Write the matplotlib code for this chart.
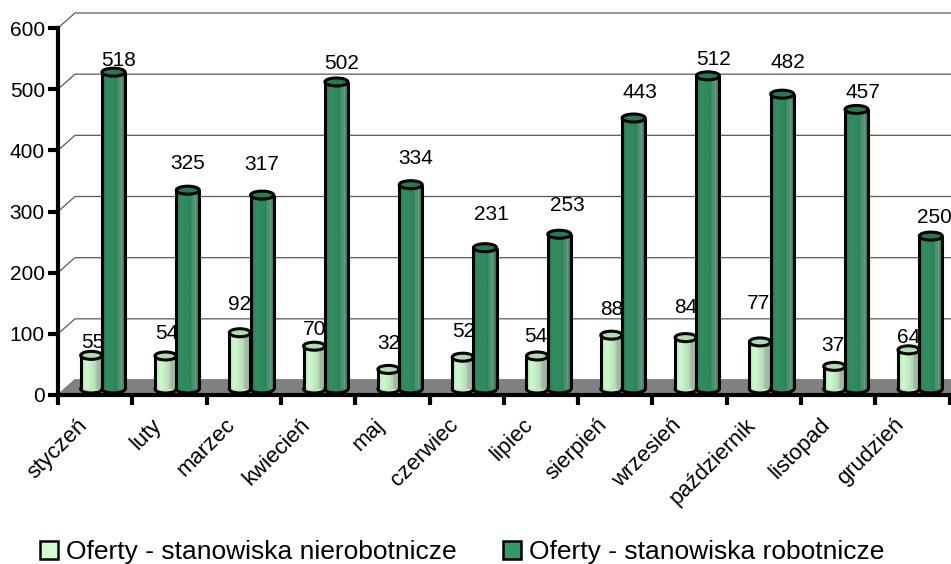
#!/usr/bin/env python3

import numpy as np
from matplotlib import pyplot as plt
from matplotlib.colors import LinearSegmentedColormap
from matplotlib.patches import Ellipse, Patch

plt.rcParams['font.family'] = ['Liberation Sans', 'DejaVu Sans']

months = ['styczeń', 'luty', 'marzec', 'kwiecień', 'maj', 'czerwiec', 'lipiec',
          'sierpień', 'wrzesień', 'październik', 'listopad', 'grudzień']
nierobotnicze = [55, 54, 92, 70, 32, 52, 54, 88, 84, 77, 37, 64]
robotnicze = [518, 325, 317, 502, 334, 231, 253, 443, 512, 482, 457, 250]
yticks = [0, 100, 200, 300, 400, 500, 600]
series_names = ['Oferty - stanowiska nierobotnicze', 'Oferty - stanowiska robotnicze']

# label offsets from the bar top, pixels (the original has them placed by hand)
light_dx = [1, 1, 0, 0, 0, 1, -1, 0, 0, -1, -1, 0]
light_dy = [13, 22, 28, 17, 26, 26, 19, 26, 30, 38, 21, 12]
dark_dx = [5, 0, 0, 5, 5, 6, 8, 6, 6, 6, 6, 4]
dark_dy = [12, 27, 31, 18, 26, 33, 29, 26, 16, 32, 17, 19]

W, H = 951, 564
x0, y0, y600 = 58, 395, 28
step = 74.3
sx = 1/step
sy = 600/(y0-y600)
depth_x, depth_y = 17*sx, 15*sy
base = 6*sy
ell_h = 8*sy
light_c, dark_c = 0.448, 0.747
light_w, dark_w = 0.285, 0.31

light_cmap = LinearSegmentedColormap.from_list('l', [(0, '#b8e6b8'), (0.25, '#ccfacc'), (0.55, '#bfe6bf'),
                                                     (0.7, '#b4d0b4'), (0.72, '#a4bca4'), (1, '#a0b4a0')])
dark_cmap = LinearSegmentedColormap.from_list('d', [(0, '#287a52'), (0.2, '#2f8d5f'), (0.55, '#2f8a5d'),
                                                    (0.62, '#2c7f57'), (0.66, '#4a8f6f'), (0.78, '#4f9272'),
                                                    (0.82, '#66a386'), (0.88, '#3f8565'), (1, '#2a6e4e')])
grad = np.linspace(0, 1, 64).reshape(1, -1)


def cylinder(ax, x, v, w, cmap, top_col, z):
    bars = ax.bar(x, v, w, bottom=base, color='none', edgecolor='none', zorder=z, clip_on=False)
    bottom = Ellipse((x, base), w, ell_h, fc=cmap(0.5), ec='k', lw=2.2, zorder=z, clip_on=False)
    ax.add_patch(bottom)
    im = ax.imshow(grad, cmap=cmap, extent=(x-w/2, x+w/2, base, base+v), aspect='auto', zorder=z+0.1)
    im.set_clip_path(bars[0])
    ax.plot([x-w/2, x-w/2], [base, base+v], color='k', lw=2.2, zorder=z+0.2, clip_on=False, solid_capstyle='butt')
    ax.plot([x+w/2, x+w/2], [base, base+v], color='k', lw=2.2, zorder=z+0.2, clip_on=False, solid_capstyle='butt')
    top = Ellipse((x, base+v), w, ell_h, fc=top_col, ec='k', lw=2.2, zorder=z+0.3, clip_on=False)
    ax.add_patch(top)


fig = plt.figure(figsize=(W/100, H/100), dpi=100)
ax = fig.add_axes((x0/W, (H-y0)/H, 1-x0/W, (y0-y600)/H))
xmax = (W-x0)*sx
ax.set_xlim(0, xmax)
ax.set_ylim(0, 600)

# back wall grid
for v in yticks:
    ax.plot([0, depth_x, xmax], [v, v+depth_y, v+depth_y], color='#5a5a5a', lw=0.9, zorder=1, clip_on=False)
# floor
ax.fill([0, depth_x, xmax, xmax], [0, depth_y, depth_y, 0], color='#808080', zorder=1.5, clip_on=False)

for i in range(len(months)):
    cylinder(ax, i+light_c, nierobotnicze[i], light_w, light_cmap, '#b0dcb0', 2)
    ax.annotate(str(nierobotnicze[i]), (i+light_c, base+nierobotnicze[i]),
                xytext=(light_dx[i], light_dy[i]), textcoords='offset pixels',
                ha='center', va='center', fontsize=15, zorder=3, annotation_clip=False)
for i in range(len(months)):
    cylinder(ax, i+dark_c, robotnicze[i], dark_w, dark_cmap, '#287a52', 4)
    ax.annotate(str(robotnicze[i]), (i+dark_c, base+robotnicze[i]),
                xytext=(dark_dx[i], dark_dy[i]), textcoords='offset pixels',
                ha='center', va='center', fontsize=15, zorder=5, annotation_clip=False)

for s in ['top', 'right']:
    ax.spines[s].set_visible(False)
for s in ['left', 'bottom']:
    ax.spines[s].set_linewidth(3)
    ax.spines[s].set_zorder(6)
ax.set_yticks(yticks)
ax.set_xticks(range(len(months)+1))
ax.set_xticklabels([])
ax.set_xticks(np.arange(len(months))+0.25, months, minor=True)
ax.tick_params(axis='y', length=7, width=3, labelsize=15, pad=2.5)
ax.tick_params(axis='x', which='major', length=7, width=3)
ax.tick_params(axis='x', which='minor', length=0, labelsize=15.9, pad=14)
for t in ax.get_xticklabels(minor=True):
    t.set_rotation(45)
    t.set_ha('right')
    t.set_rotation_mode('anchor')

handles = [Patch(fc='#ccffcc', ec='k', lw=1.8), Patch(fc='#339966', ec='k', lw=1.8)]
fig.legend(handles, series_names, ncol=2, frameon=False, fontsize=19,
           loc='center left', bbox_to_anchor=(40/W, (H-552)/H),
           handlelength=0.68, handleheight=0.68, handletextpad=0.3, columnspacing=1.75,
           borderpad=0, borderaxespad=0)

plt.savefig('out.png', dpi=100)
